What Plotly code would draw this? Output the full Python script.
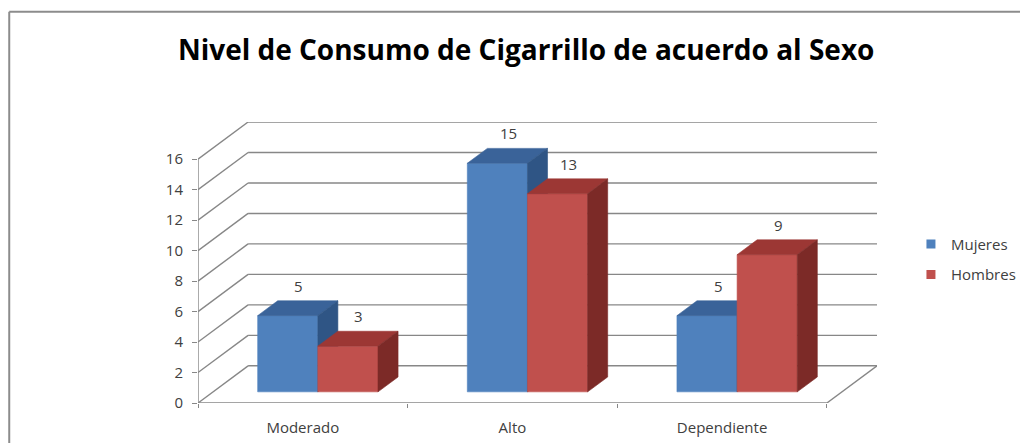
import plotly.graph_objects as go

# ---------------- data ----------------
categories = ["Moderado", "Alto", "Dependiente"]
series_names = ["Mujeres", "Hombres"]
mujeres = [5, 15, 5]
hombres = [3, 13, 9]
y_tick_values = [0, 2, 4, 6, 8, 10, 12, 14, 16]

# ---------------- style / geometry (pseudo 3-D) ----------------
front_colors = ["#4F81BD", "#C0504D"]
top_colors = ["#3A6399", "#9C3734"]
side_colors = ["#2F5585", "#7C2A27"]
grid_color = "#878787"
text_color = "#404040"
FONT = "Open Sans"

WALL_DX = 0.239     # depth offset of back wall, x units (categories)
WALL_DY = 2.44      # depth offset of back wall, y units
BAR_D0, BAR_D1 = 0.30, 0.70   # bar depth span as fraction of wall depth
BAR_W = 0.287       # bar width in category units
Y_MAX = y_tick_values[-1]
n_cat = len(categories)

fig = go.Figure()


def line(xs, ys, color=grid_color, width=1.4):
    fig.add_trace(go.Scatter(x=xs, y=ys, mode="lines", line=dict(color=color, width=width),
                             hoverinfo="skip", showlegend=False))


def poly(xs, ys, color):
    fig.add_trace(go.Scatter(x=xs + [xs[0]], y=ys + [ys[0]], mode="lines", fill="toself",
                             fillcolor=color, line=dict(color=color, width=0.6),
                             hoverinfo="skip", showlegend=False))


# back wall gridlines and left wall diagonals
for v in y_tick_values:
    line([WALL_DX, n_cat + WALL_DX], [v + WALL_DY, v + WALL_DY])
    line([0, WALL_DX], [v, v + WALL_DY])
# floor
line([0, n_cat], [0, 0])
line([n_cat, n_cat + WALL_DX], [0, WALL_DY])
# front vertical axis line
line([0, 0], [0, Y_MAX])

# bars
series_values = [mujeres, hombres]
ddx = (BAR_D1 - BAR_D0) * WALL_DX
ddy = (BAR_D1 - BAR_D0) * WALL_DY
annotations = []
for c in range(n_cat):
    for i, vals in enumerate(series_values):
        v = vals[c]
        xl = c + 0.5 - BAR_W + i * BAR_W + BAR_D0 * WALL_DX
        xr = xl + BAR_W
        yb = BAR_D0 * WALL_DY
        yt = yb + v
        poly([xl, xr, xr, xl], [yb, yb, yt, yt], front_colors[i])
        poly([xl, xr, xr + ddx, xl + ddx], [yt, yt, yt + ddy, yt + ddy], top_colors[i])
        poly([xr, xr + ddx, xr + ddx, xr], [yb, yb + ddy, yt + ddy, yt], side_colors[i])
        annotations.append(dict(x=xl + BAR_W / 2 + ddx * 0.55, y=yt + ddy, text=str(v),
                                xref="x", yref="y", showarrow=False, yanchor="bottom", yshift=3,
                                font=dict(family=FONT, size=15, color=text_color)))

# legend entries
for i, name in enumerate(series_names):
    fig.add_trace(go.Scatter(x=[None], y=[None], mode="markers", name=name,
                             legendgroup=name,
                             marker=dict(symbol="square", size=9, color=front_colors[i])))

# chart border (top and left edges visible)
border = [dict(type="line", xref="paper", yref="paper", x0=-0.278, x1=1.3, y0=1.392, y1=1.392,
               line=dict(color="#8C8C8C", width=2)),
          dict(type="line", xref="paper", yref="paper", x0=-0.278, x1=-0.278, y0=1.392, y1=-0.2,
               line=dict(color="#8C8C8C", width=2))]

fig.update_layout(
    width=1020, height=435, autosize=False,
    margin=dict(l=190, r=151, t=114, b=40, autoexpand=False),
    paper_bgcolor="white", plot_bgcolor="white",
    title=dict(text="<b>Nivel de Consumo de Cigarrillo de acuerdo al Sexo</b>",
               x=0.508, xref="container", y=0.903, yref="container",
               xanchor="center", yanchor="middle",
               font=dict(family=FONT, size=28, color="black")),
    xaxis=dict(range=[0, n_cat + WALL_DX], showgrid=False, zeroline=False, showline=False,
               tickvals=[c + 0.5 for c in range(n_cat)], ticktext=categories, ticks="",
               ticklabelstandoff=14,
               tickfont=dict(family=FONT, size=15, color=text_color),
               minor=dict(tickvals=list(range(n_cat + 1)), ticks="outside", ticklen=4,
                          tickcolor=grid_color, showgrid=False),
               fixedrange=True),
    yaxis=dict(range=[0, Y_MAX + WALL_DY], showgrid=False, zeroline=False, showline=False,
               tickvals=y_tick_values, ticks="outside", ticklen=5, tickcolor=grid_color,
               ticklabelstandoff=6,
               tickfont=dict(family=FONT, size=15, color=text_color), fixedrange=True),
    legend=dict(x=1.050, y=0.512, xanchor="left", yanchor="middle", tracegroupgap=8,
                font=dict(family=FONT, size=15, color=text_color), bgcolor="rgba(0,0,0,0)"),
    annotations=annotations,
    shapes=border,
    showlegend=True,
)

fig.write_html("out.html")
